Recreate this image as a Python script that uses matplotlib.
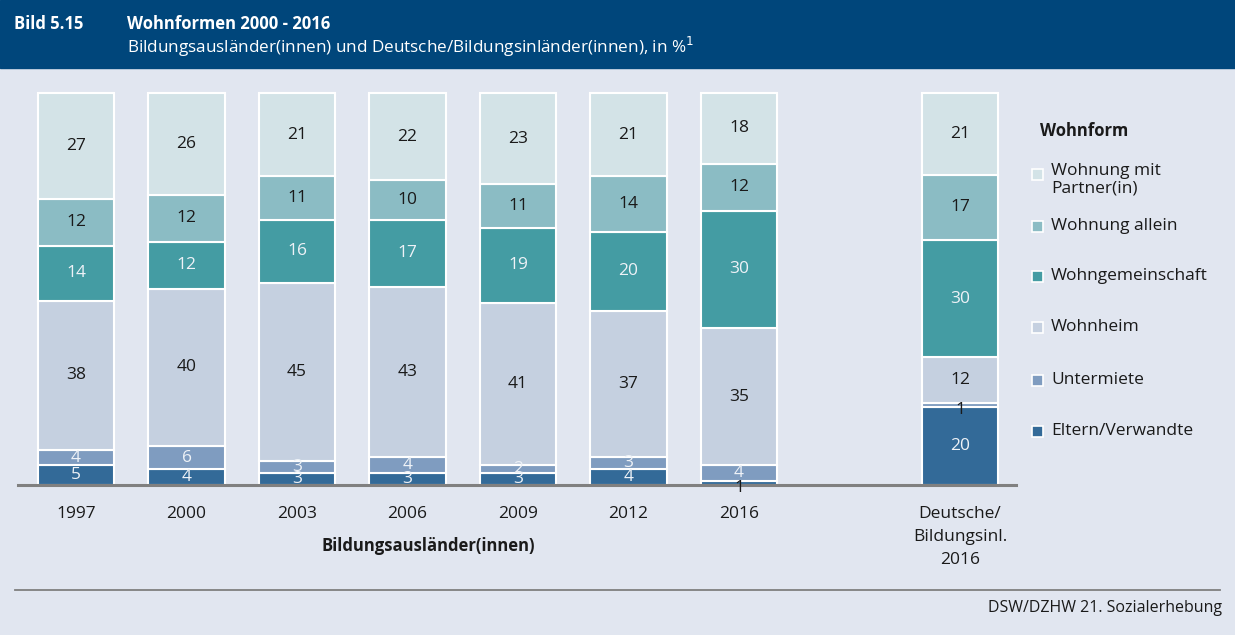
import matplotlib.pyplot as plt
from matplotlib.patches import Rectangle
import numpy as np

plt.rcParams['font.family'] = ['Open Sans', 'DejaVu Sans']

W, H = 1235, 635

bg       = '#e1e6f0'
header   = '#00467b'
txt_dark = '#1a1a1a'
txt_lite = '#eef2f7'

categories = ['1997', '2000', '2003', '2006', '2009', '2012', '2016',
              'Deutsche/\nBildungsinl.\n2016']
series = ['Eltern/Verwandte', 'Untermiete', 'Wohnheim', 'Wohngemeinschaft',
          'Wohnung allein', 'Wohnung mit\nPartner(in)']
colors = ['#336a98', '#7f9cc0', '#c5d0e0', '#449ca3', '#8bbcc4', '#d3e3e7']
label_col = [txt_lite, txt_lite, txt_dark, txt_lite, txt_dark, txt_dark]

eltern     = [5, 4, 3, 3, 3, 4, 1, 20]
untermiete = [4, 6, 3, 4, 2, 3, 4, 1]
wohnheim   = [38, 40, 45, 43, 41, 37, 35, 12]
wg         = [14, 12, 16, 17, 19, 20, 30, 30]
allein     = [12, 12, 11, 10, 11, 14, 12, 17]
partner    = [27, 26, 21, 22, 23, 21, 18, 21]
values = [eltern, untermiete, wohnheim, wg, allein, partner]

xpos = [0, 1, 2, 3, 4, 5, 6, 8]

# rounded shares do not always add to 100; bars are drawn as full 100 % stacks
totals = np.sum(np.array(values, dtype=float), axis=0)

fs = 12.5

fig = plt.figure(figsize=(W / 100, H / 100), dpi=100, facecolor=bg)

def fx(px):
    return px / W

def fy(py):
    return 1 - py / H

# header band
fig.patches.append(Rectangle((0, fy(68)), 1, 68 / H, transform=fig.transFigure,
                             color=header, zorder=0))
fig.text(fx(14), fy(24), 'Bild 5.15', color='white', fontsize=12,
         fontweight='bold', va='center', ha='left')
fig.text(fx(127), fy(24), 'Wohnformen 2000 - 2016', color='white', fontsize=12,
         fontweight='bold', va='center', ha='left')
fig.text(fx(127), fy(47),
         'Bildungsausländer(innen) und Deutsche/Bildungsinländer(innen), in %$^1$',
         color='white', fontsize=12.3, va='center', ha='left')

# axes
ax_l, ax_r, ax_b = 18, 1016, 485
ymax = 102
ax_t = ax_b - ymax * 3.92
ax = fig.add_axes([fx(ax_l), fy(ax_b), fx(ax_r - ax_l), (ax_b - ax_t) / H])
ax.set_facecolor(bg)
ax.set_xlim(-0.525, 8.507)
ax.set_ylim(0, ymax)

bottom = np.zeros(len(xpos))
for i, (vals, c) in enumerate(zip(values, colors)):
    vals = np.array(vals, dtype=float)
    h = vals / totals * 100
    ax.bar(xpos, h, width=0.69, bottom=bottom, color=c, edgecolor='white',
           linewidth=1.5, label=series[i], zorder=2)
    for x, b, hh, v in zip(xpos, bottom, h, vals):
        col = label_col[i]
        yy = b + hh / 2
        if v <= 1:
            col = txt_dark
            if i == 0:
                yy = -0.8
            else:
                yy = b - 0.6
        ax.text(x, yy, f'{int(v)}', ha='center', va='center',
                color=col, fontsize=fs, zorder=3, clip_on=False)
    bottom += h

for s in ['top', 'right', 'left']:
    ax.spines[s].set_visible(False)
ax.spines['bottom'].set_color('#808080')
ax.spines['bottom'].set_linewidth(2.2)
ax.spines['bottom'].set_zorder(2.5)
ax.set_yticks([])
ax.set_xticks(xpos)
ax.set_xticklabels(categories, fontsize=fs, color=txt_dark)
for lab in ax.get_xticklabels():
    lab.set_linespacing(1.6)
ax.tick_params(axis='x', length=0, pad=15)

fig.text(fx(428), fy(546), 'Bildungsausländer(innen)', fontsize=12,
         fontweight='bold', color=txt_dark, ha='center', va='center')

# legend
fig.text(fx(1040), fy(131), 'Wohnform', fontsize=12, fontweight='bold',
         color=txt_dark, ha='left', va='center')
leg_y = [174, 226, 276, 327, 380, 431]
order = [5, 4, 3, 2, 1, 0]
for yy, k in zip(leg_y, order):
    fig.patches.append(Rectangle((fx(1032), fy(yy + 5.5)), 11 / W, 11 / H,
                                 transform=fig.transFigure, facecolor=colors[k],
                                 edgecolor='white', linewidth=1.2))
    if '\n' in series[k]:
        fig.text(fx(1051), fy(163), series[k], fontsize=fs, color=txt_dark,
                 ha='left', va='top', linespacing=1.1)
    else:
        fig.text(fx(1051), fy(yy), series[k], fontsize=fs, color=txt_dark,
                 ha='left', va='center')

# footer
fig.add_artist(plt.Line2D([fx(15), fx(1220)], [fy(590), fy(590)],
                          transform=fig.transFigure, color='#7f7f7f',
                          linewidth=1.3))
fig.text(fx(1222), fy(608), 'DSW/DZHW 21. Sozialerhebung', fontsize=11.5,
         color=txt_dark, ha='right', va='center')

fig.savefig('out.png', dpi=100, facecolor=bg)
